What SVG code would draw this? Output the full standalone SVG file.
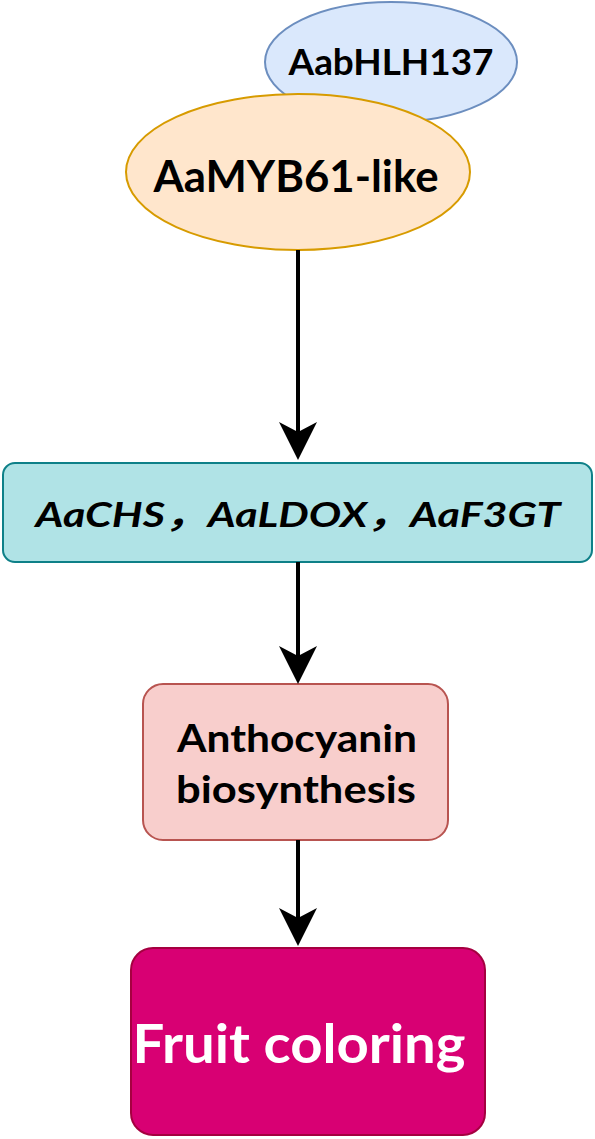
<svg xmlns="http://www.w3.org/2000/svg" width="595" height="1139" viewBox="0 0 595 1139">
<style>
text{font-family:Lato,"Open Sans","Liberation Sans","Noto Sans CJK SC",sans-serif;font-weight:bold;text-anchor:middle;fill:#000}
.ln{stroke:#000;stroke-width:4;fill:none}
</style>
<rect width="595" height="1139" fill="#fff"/>
<g id="bhlh">
<ellipse cx="391" cy="62" rx="126" ry="60" fill="#dae8fc" stroke="#6c8ebf" stroke-width="2"/>
<text x="391" y="75" font-size="36" textLength="205" lengthAdjust="spacingAndGlyphs">AabHLH137</text>
</g>
<g id="myb">
<ellipse cx="298" cy="172" rx="172" ry="78" fill="#ffe6cc" stroke="#d79b00" stroke-width="2"/>
<text x="296" y="192" font-size="43" textLength="285" lengthAdjust="spacingAndGlyphs">AaMYB61-like</text>
</g>
<g id="genes">
<rect x="3" y="463" width="589" height="99" rx="12" fill="#b0e3e6" stroke="#0e8088" stroke-width="2"/>
<text x="298" y="527" font-size="35" font-style="italic" textLength="525" lengthAdjust="spacingAndGlyphs">AaCHS，AaLDOX，AaF3GT</text>
</g>
<g id="antho">
<rect x="143" y="684" width="305" height="156" rx="20" fill="#f8cecc" stroke="#b85450" stroke-width="2"/>
<text x="297" y="752" font-size="38" textLength="240" lengthAdjust="spacingAndGlyphs">Anthocyanin</text>
<text x="296" y="803" font-size="38" textLength="240" lengthAdjust="spacingAndGlyphs">biosynthesis</text>
</g>
<g id="fruit">
<rect x="131" y="948" width="354" height="187" rx="22" fill="#d80073" stroke="#a50040" stroke-width="2"/>
<text x="299" y="1063" font-size="53" style="fill:#fff" textLength="333" lengthAdjust="spacingAndGlyphs">Fruit coloring</text>
</g>
<g id="connectors">
<line x1="298" y1="250" x2="298" y2="450" class="ln"/>
<polygon points="298,460 279,422 298,432 317,422" fill="#000"/>
<line x1="298" y1="562" x2="298" y2="674" class="ln"/>
<polygon points="298,684 279,646 298,656 317,646" fill="#000"/>
<line x1="298" y1="840" x2="298" y2="936" class="ln"/>
<polygon points="298,946 279,908 298,918 317,908" fill="#000"/>
</g>
</svg>
